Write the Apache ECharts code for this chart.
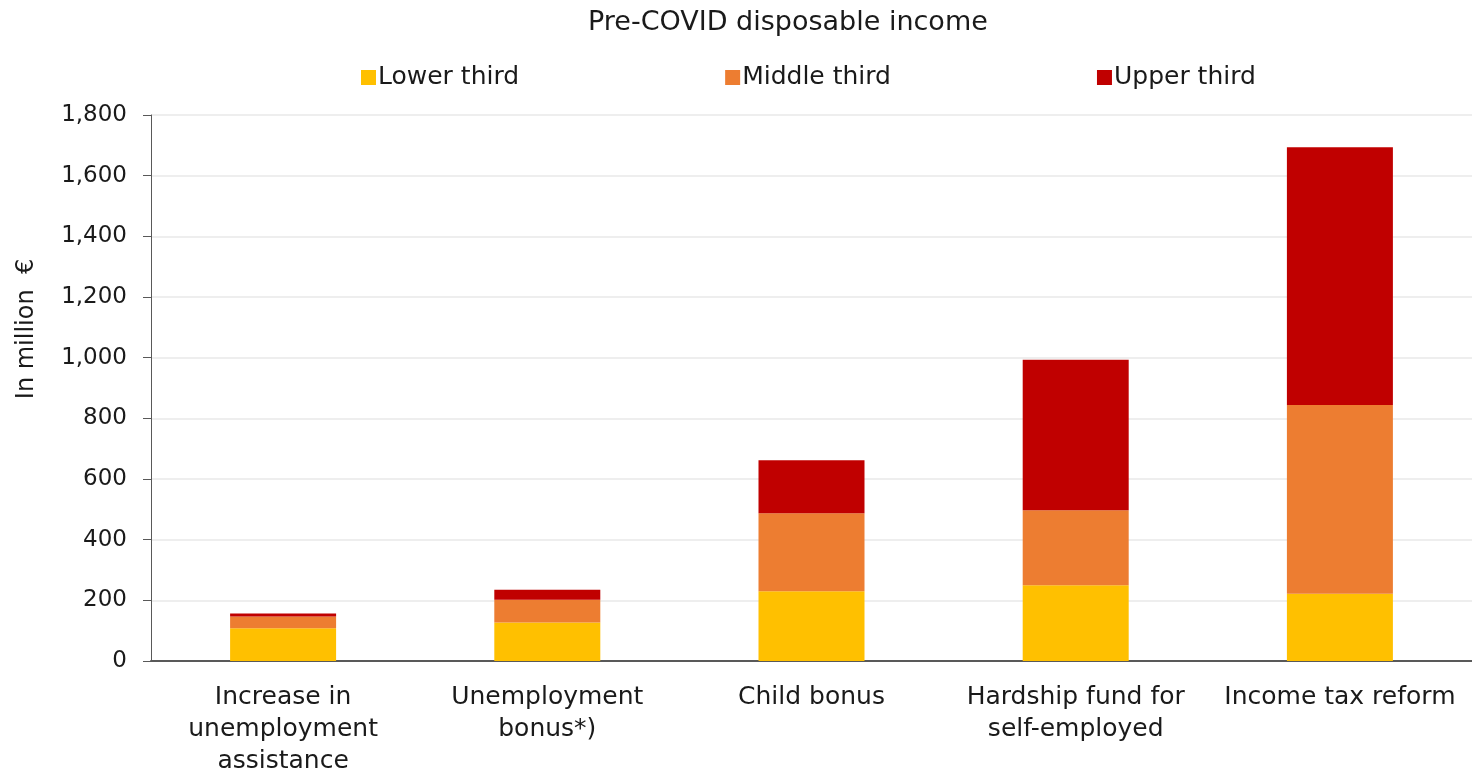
<!DOCTYPE html>
<html>
<head>
<meta charset="utf-8">
<script src="https://cdn.jsdelivr.net/npm/echarts@6/dist/echarts.min.js"></script>
<style>
  html, body { margin: 0; padding: 0; background: #ffffff; }
  #chart { width: 1472px; height: 777px; }
</style>
</head>
<body>
<div id="chart"></div>
<script>
// Public spending measures by pre-COVID disposable income group (million €)
const categories = [
  'Increase in\nunemployment\nassistance',
  'Unemployment\nbonus*)',
  'Child bonus',
  'Hardship fund for\nself-employed',
  'Income tax reform'
];
const lowerThird  = [108, 127, 230, 250, 222];
const middleThird = [39, 75, 257, 247, 622];
const upperThird  = [10, 33, 175, 496, 850];
const yTicks = { min: 0, max: 1800, interval: 200 };

const FONT = 'DejaVu Sans';
const TXT = '#1a1a1a';

const chart = echarts.init(document.getElementById('chart'));
const barBase = { type: 'bar', stack: 'total', barWidth: 106 };

chart.setOption({
  animation: false,
  textStyle: { fontFamily: FONT, color: TXT },
  title: {
    text: 'Pre-COVID disposable income',
    left: 583, top: 4,
    textStyle: { fontFamily: FONT, fontWeight: 'normal', fontSize: 27, color: TXT }
  },
  legend: {
    top: 60, left: 356,
    itemWidth: 15, itemHeight: 15, itemGap: 206,
    icon: 'rect',
    textStyle: { fontFamily: FONT, fontSize: 25, color: TXT, padding: [0, 0, 0, -3] },
    data: ['Lower third', 'Middle third', 'Upper third']
  },
  grid: { left: 151, right: -4, top: 115, height: 551, containLabel: false },
  xAxis: {
    type: 'category',
    data: categories,
    axisLine: { lineStyle: { color: '#595959', width: 2 } },
    axisTick: { show: false },
    axisLabel: { fontFamily: FONT, fontSize: 25, color: TXT, lineHeight: 32, margin: 20, interval: 0 }
  },
  yAxis: {
    type: 'value',
    min: yTicks.min, max: yTicks.max, interval: yTicks.interval,
    name: 'In million  €',
    nameLocation: 'middle', nameGap: 112,
    nameTextStyle: { fontFamily: FONT, fontSize: 24, color: TXT, padding: [0, 0, 0, 118] },
    axisLine: { show: true, lineStyle: { color: '#595959', width: 1 } },
    axisTick: { show: true, inside: false, length: 8, lineStyle: { color: '#595959' } },
    axisLabel: {
      fontFamily: FONT, fontSize: 23, color: TXT, margin: 24,
      formatter: v => v.toLocaleString('en-US')
    },
    splitLine: { lineStyle: { color: '#eeeeee', width: 2 } }
  },
  series: [
    Object.assign({ name: 'Lower third', data: lowerThird, itemStyle: { color: '#ffc000' } }, barBase),
    Object.assign({ name: 'Middle third', data: middleThird, itemStyle: { color: '#ed7d31' } }, barBase),
    Object.assign({ name: 'Upper third', data: upperThird, itemStyle: { color: '#c00000' } }, barBase)
  ]
});
</script>
</body>
</html>
